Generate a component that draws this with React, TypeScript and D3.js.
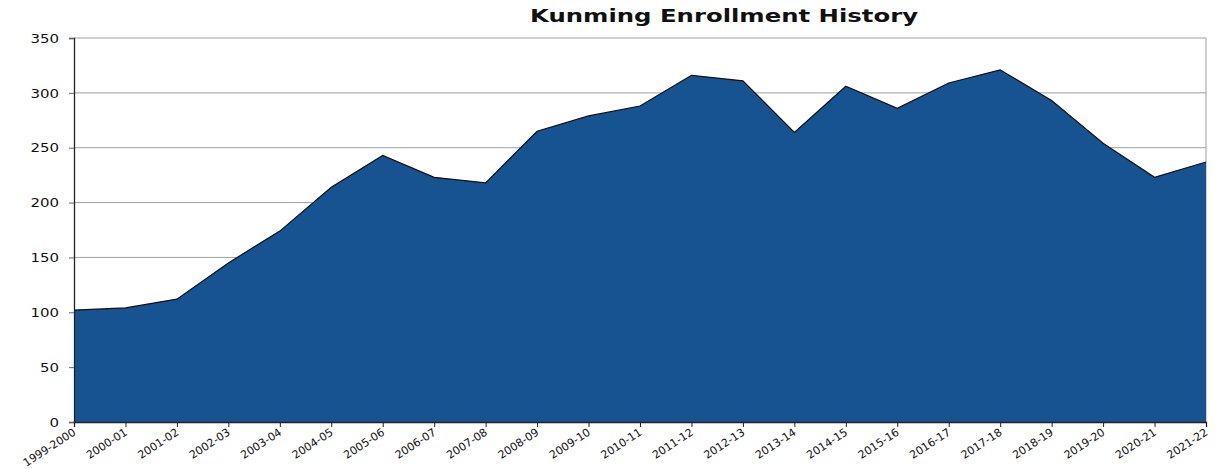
import React, { useEffect, useRef } from 'react';
import * as d3 from 'd3';

const years = [
  '1999-2000', '2000-01', '2001-02', '2002-03', '2003-04', '2004-05', '2005-06',
  '2006-07', '2007-08', '2008-09', '2009-10', '2010-11', '2011-12', '2012-13',
  '2013-14', '2014-15', '2015-16', '2016-17', '2017-18', '2018-19', '2019-20',
  '2020-21', '2021-22',
];
const enrollment = [
  102, 104, 112, 145, 174, 214, 243, 223, 218, 265, 279, 288, 316, 311,
  264, 306, 286, 309, 321, 293, 254, 223, 237,
];
const yTicks = [0, 50, 100, 150, 200, 250, 300, 350];

const W = 1217;
const H = 469;
const margin = { top: 38, right: 11, bottom: 47, left: 74 };

export default function App() {
  const ref = useRef<SVGSVGElement>(null);

  useEffect(() => {
    const svg = d3.select(ref.current);
    svg.selectAll('*').remove();

    const x = d3.scalePoint<string>().domain(years).range([margin.left, W - margin.right]);
    const y = d3.scaleLinear().domain([0, 350]).range([H - margin.bottom, margin.top]);
    const font = 'DejaVu Sans, Verdana, sans-serif';

    // gridlines
    svg.append('g')
      .selectAll('line')
      .data(yTicks.filter(t => t > 0))
      .enter()
      .append('line')
      .attr('x1', margin.left)
      .attr('x2', W - margin.right)
      .attr('y1', d => y(d))
      .attr('y2', d => y(d))
      .attr('stroke', '#a0a0a0')
      .attr('stroke-width', 1);

    // right border
    svg.append('line')
      .attr('x1', W - margin.right).attr('x2', W - margin.right)
      .attr('y1', margin.top).attr('y2', H - margin.bottom)
      .attr('stroke', '#a0a0a0');

    const area = d3.area<number>()
      .x((d, i) => x(years[i]) as number)
      .y0(y(0))
      .y1(d => y(d));
    svg.append('path')
      .datum(enrollment)
      .attr('d', area)
      .attr('fill', '#175391');

    const line = d3.line<number>()
      .x((d, i) => x(years[i]) as number)
      .y(d => y(d));
    svg.append('path')
      .datum(enrollment)
      .attr('d', line)
      .attr('fill', 'none')
      .attr('stroke', '#111')
      .attr('stroke-width', 1.2);

    // y axis
    const yAxis = svg.append('g')
      .attr('transform', `translate(${margin.left},0)`)
      .call(d3.axisLeft(y).tickValues(yTicks).tickSize(5).tickPadding(10));
    yAxis.select('.domain').attr('stroke', '#222').attr('stroke-width', 1.3);
    yAxis.selectAll('line').attr('stroke', '#666');
    yAxis.selectAll('text')
      .attr('font-family', font)
      .attr('font-size', 13)
      .attr('fill', '#111')
      .attr('transform', 'scale(1.15,1)')
      .attr('transform-origin', '-15 0');

    // x axis
    const xAxis = svg.append('g')
      .attr('transform', `translate(0,${H - margin.bottom})`)
      .call(d3.axisBottom(x).tickSize(5).tickPadding(4));
    xAxis.select('.domain').attr('stroke', '#222').attr('stroke-width', 1.3);
    xAxis.selectAll('line').attr('stroke', '#222');
    xAxis.selectAll('text')
      .attr('font-family', font)
      .attr('font-size', 11)
      .attr('fill', '#111')
      .attr('text-anchor', 'end')
      .attr('x', 0)
      .attr('y', 0)
      .attr('dy', '0.35em')
      .attr('transform', 'translate(0,9) rotate(-33)');

    svg.append('text')
      .attr('x', 724)
      .attr('y', 22)
      .attr('text-anchor', 'middle')
      .attr('font-family', font)
      .attr('font-weight', 'bold')
      .attr('font-size', 18)
      .attr('textLength', 388)
      .attr('lengthAdjust', 'spacingAndGlyphs')
      .attr('fill', '#111')
      .text('Kunming Enrollment History');
  }, []);

  return (
    <svg ref={ref} width={W} height={H} style={{ position: 'absolute', left: 0, top: 0 }} />
  );
}
